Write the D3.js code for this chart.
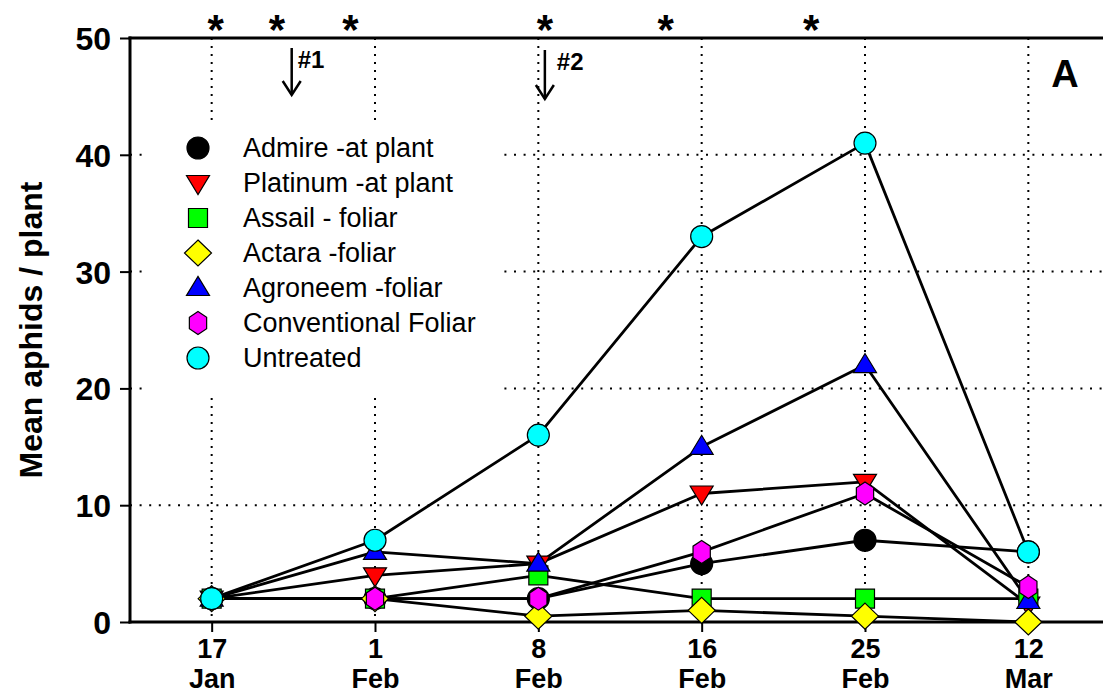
<!DOCTYPE html>
<html><head><meta charset="utf-8">
<script src="https://cdn.jsdelivr.net/npm/d3@7"></script>
<style>
html,body{margin:0;padding:0;background:#fff;}
svg text{font-family:Arial,"Liberation Sans",sans-serif;}
</style></head>
<body><svg id="chart" width="1103" height="698"></svg>
<script>
(function(){
// ---- data ----
const categories = ["17 Jan","1 Feb","8 Feb","16 Feb","25 Feb","12 Mar"];
const yTicks = [0,10,20,30,40,50];
const seriesNames = ["Admire -at plant","Platinum -at plant","Assail - foliar","Actara -foliar","Agroneem -foliar","Conventional Foliar","Untreated"];
const admire = [2,2,2,5,7,6];
const platinum = [2,4,5,11,12,1.5];
const assail = [2,2,4,2,2,2];
const actara = [2,2,0.5,1,0.5,0];
const agroneem = [2,6,5,15,22,1.8];
const conventional = [2,2,2,6,11,3];
const untreated = [2,7,16,33,41,6];
const seriesColors = ["#000000","#ff0000","#00ff00","#ffff00","#0000ff","#ff00ff","#00ffff"];
const seriesShapes = ["circle","triDown","square","diamond","triUp","hexagon","circle"];
const asteriskPositions = [0.025,0.4,0.85,2.04,2.78,3.67]; // in category-step units
const sprays = [{label:"#1", at:0.49},{label:"#2", at:2.04}];

const seriesValues = [admire,platinum,assail,actara,agroneem,conventional,untreated];

// ---- layout ----
const svg = d3.select("#chart");
const pLeft = 130, pRight = 1110, pTop = 38, pBottom = 622;
const x = d3.scalePoint().domain(categories).range([pLeft,pRight]).padding(0.5);
const y = d3.scaleLinear().domain([0,50]).range([pBottom,pTop]);
const step = x.step();
const xAt = t => x(categories[0]) + t*step;

function shapePath(shape){
  switch(shape){
    case "circle": {const p=d3.path(); p.arc(0,0,11,0,2*Math.PI); return p.toString();}
    case "triDown": return "M-11.5,-7.5L11.5,-7.5L0,11.5Z";
    case "triUp": return "M-11.5,7.5L11.5,7.5L0,-11.5Z";
    case "square": return "M-9.5,-9.5H9.5V9.5H-9.5Z";
    case "diamond": return "M0,-13L13.5,0L0,13L-13.5,0Z";
    case "hexagon": {
      const pts=[]; for(let i=0;i<6;i++){const a=-Math.PI/2+i*Math.PI/3; pts.push([10.5*Math.cos(a)*0.95,11.5*Math.sin(a)]);}
      return "M"+pts.map(p=>p.join(",")).join("L")+"Z";
    }
  }
}

// gridlines
const grid = svg.append("g");
grid.selectAll("line.h").data(yTicks.filter(d=>d>0 && d<50)).join("line")
  .attr("x1",pLeft).attr("x2",1103).attr("y1",d=>y(d)).attr("y2",d=>y(d))
  .attr("stroke","#000").attr("stroke-width",2).attr("stroke-dasharray","2,7.6");
grid.selectAll("line.v").data(categories).join("line")
  .attr("x1",d=>x(d)).attr("x2",d=>x(d)).attr("y1",pTop).attr("y2",pBottom)
  .attr("stroke","#000").attr("stroke-width",2).attr("stroke-dasharray","2,6");

// legend background
svg.append("rect").attr("x",145).attr("y",125).attr("width",352).attr("height",271).attr("fill","#fff");

// axes
const yAxis = d3.axisLeft(y).tickValues(yTicks).tickSize(10).tickPadding(9);
const gy = svg.append("g").attr("transform",`translate(${pLeft},0)`).call(yAxis);
gy.select(".domain").remove();
gy.selectAll(".tick line").attr("stroke","#000").attr("stroke-width",2);
gy.selectAll(".tick text").attr("font-size",32).attr("font-weight","bold").attr("fill","#000")
  .attr("font-family",'Arial,"Liberation Sans",sans-serif').attr("dy","0.36em");

const xAxis = d3.axisBottom(x).tickSize(10).tickFormat("");
const gx = svg.append("g").attr("transform",`translate(0,${pBottom})`).call(xAxis);
gx.select(".domain").remove();
gx.selectAll(".tick line").attr("stroke","#000").attr("stroke-width",2);
gx.selectAll(".tick").each(function(d){
  const parts = d.split(" ");
  const t = d3.select(this).append("text").attr("fill","#000").attr("font-size",27).attr("font-weight","bold")
    .attr("text-anchor","middle").attr("font-family",'Arial,"Liberation Sans",sans-serif');
  t.append("tspan").attr("x",0).attr("y",36).text(parts[0]);
  t.append("tspan").attr("x",0).attr("y",66).text(parts[1]);
});

// frame lines
svg.append("line").attr("x1",pLeft).attr("x2",pLeft).attr("y1",pTop-1.5).attr("y2",pBottom+1.5).attr("stroke","#000").attr("stroke-width",3);
svg.append("line").attr("x1",pLeft-1.5).attr("x2",1103).attr("y1",pBottom).attr("y2",pBottom).attr("stroke","#000").attr("stroke-width",3);
svg.append("line").attr("x1",pLeft-1.5).attr("x2",1103).attr("y1",pTop).attr("y2",pTop).attr("stroke","#000").attr("stroke-width",3);

// series lines
const line = d3.line().x((d,i)=>x(categories[i])).y(d=>y(d));
const lines = svg.append("g");
seriesValues.forEach(vals=>{
  lines.append("path").attr("d",line(vals)).attr("fill","none").attr("stroke","#000").attr("stroke-width",2.8).attr("stroke-linejoin","round");
});
// markers
const marks = svg.append("g");
seriesValues.forEach((vals,si)=>{
  marks.selectAll(null).data(vals).join("path")
    .attr("d",shapePath(seriesShapes[si]))
    .attr("transform",(d,i)=>`translate(${x(categories[i])},${y(d)})`)
    .attr("fill",seriesColors[si]).attr("stroke","#000").attr("stroke-width",1.2);
});

// legend
const lg = svg.append("g");
seriesNames.forEach((n,i)=>{
  const cy = 148 + i*35;
  lg.append("path").attr("d",shapePath(seriesShapes[i])).attr("transform",`translate(198,${cy})`)
    .attr("fill",seriesColors[i]).attr("stroke","#000").attr("stroke-width",1.2);
  lg.append("text").attr("x",243).attr("y",cy).attr("dy","0.35em").attr("font-size",27).attr("fill","#000").text(n);
});

// y label
svg.append("text").attr("transform","translate(42,330) rotate(-90)").attr("text-anchor","middle")
  .attr("font-size",32).attr("font-weight","bold").attr("fill","#000").text("Mean aphids / plant");

// asterisks
svg.selectAll("text.ast").data(asteriskPositions).join("text").attr("class","ast")
  .attr("x",d=>xAt(d)).attr("y",44).attr("text-anchor","middle").attr("font-size",42).attr("font-weight","bold").text("*");

// spray arrows
sprays.forEach((s,i)=>{
  const ax = xAt(s.at);
  const tip = i===0 ? 95 : 99;
  const g = svg.append("g").attr("stroke","#000").attr("stroke-width",2.5).attr("fill","none");
  g.append("line").attr("x1",ax).attr("x2",ax).attr("y1",i===0?48:50).attr("y2",tip);
  g.append("path").attr("d",`M${ax-9},${tip-14}L${ax},${tip}L${ax+9},${tip-14}`);
  svg.append("text").attr("x",ax+(i===0?6:12)).attr("y",i===0?68:70).attr("font-size",24).attr("font-weight","bold").text(s.label);
});

// panel letter
svg.append("text").attr("x",1065).attr("y",87).attr("text-anchor","middle").attr("font-size",38).attr("font-weight","bold").text("A");
})();
</script></body></html>
